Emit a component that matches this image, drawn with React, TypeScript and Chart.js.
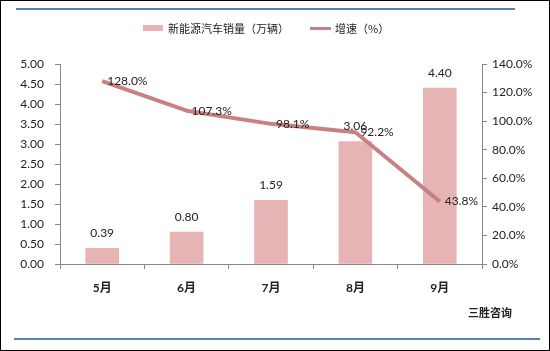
import React, { useEffect, useRef } from 'react';
import { Chart, registerables } from 'chart.js';
Chart.register(...registerables);

const categories = ['5月', '6月', '7月', '8月', '9月'];
const sales = [0.39, 0.8, 1.59, 3.06, 4.4];
const growth = [128.0, 107.3, 98.1, 92.2, 43.8];
const salesLabel = '新能源汽车销量（万辆）';
const growthLabel = '增速（%）';
const sourceText = '三胜咨询';

const BAR_COLOR = '#e6b4b5';
const LINE_COLOR = '#c88183';
const FONT = "Lato, 'Noto Sans CJK SC', sans-serif";
const CJK = "'Noto Sans CJK SC', sans-serif";

export default function App() {
  const ref = useRef<HTMLCanvasElement>(null);
  useEffect(() => {
    document.body.style.margin = '0';
    const canvas = ref.current!;
    const decor = {
      id: 'decor',
      beforeDraw(chart: any) {
        const c = chart.ctx;
        c.save();
        c.fillStyle = '#fff';
        c.fillRect(0, 0, chart.width, chart.height);
        c.restore();
      },
      afterDatasetsDraw(chart: any) {
        const c = chart.ctx;
        c.save();
        c.fillStyle = '#222';
        c.font = `12px ${FONT}`;
        const barMeta = chart.getDatasetMeta(0);
        barMeta.data.forEach((el: any, i: number) => {
          c.textAlign = 'center';
          c.textBaseline = 'middle';
          c.fillText(sales[i].toFixed(2), el.x, el.y - 15);
        });
        const lineMeta = chart.getDatasetMeta(1);
        lineMeta.data.forEach((el: any, i: number) => {
          c.textAlign = 'left';
          c.textBaseline = 'middle';
          c.fillText(growth[i].toFixed(1) + '%', el.x + 5, el.y);
        });
        c.restore();
      },
      afterDraw(chart: any) {
        const c = chart.ctx;
        c.save();
        // outer border
        c.strokeStyle = '#000';
        c.lineWidth = 1;
        c.strokeRect(0.5, 0.5, chart.width - 1, chart.height - 1);
        // blue lines
        c.strokeStyle = '#4f81bd';
        c.lineWidth = 2;
        c.beginPath();
        c.moveTo(16, 9);
        c.lineTo(515, 9);
        c.moveTo(14, 339);
        c.lineTo(540, 339);
        c.stroke();
        // legend
        c.fillStyle = BAR_COLOR;
        c.fillRect(143, 25, 20, 6);
        c.fillStyle = '#222';
        c.font = `11px ${CJK}`;
        c.textAlign = 'left';
        c.textBaseline = 'middle';
        c.fillText(salesLabel, 168, 29);
        c.strokeStyle = LINE_COLOR;
        c.lineWidth = 3;
        c.beginPath();
        c.moveTo(310, 28.5);
        c.lineTo(331, 28.5);
        c.stroke();
        c.fillText(growthLabel, 335, 29);
        // source
        c.font = `bold 11px ${CJK}`;
        c.fillText(sourceText, 468, 313);
        c.restore();
      },
    };
    const chart = new Chart(canvas, {
      type: 'bar',
      data: {
        labels: categories,
        datasets: [
          {
            type: 'bar',
            label: salesLabel,
            data: sales,
            backgroundColor: BAR_COLOR,
            barThickness: 33,
            yAxisID: 'y',
            order: 1,
          },
          {
            type: 'line',
            label: growthLabel,
            data: growth,
            borderColor: LINE_COLOR,
            borderWidth: 4,
            pointRadius: 0,
            tension: 0,
            borderJoinStyle: 'round',
            yAxisID: 'y1',
            order: 0,
          } as any,
        ],
      },
      options: {
        responsive: false,
        animation: false,
        layout: { padding: { top: 64, left: 0, right: 0, bottom: 0 } },
        plugins: { legend: { display: false }, tooltip: { enabled: false } },
        scales: {
          x: {
            grid: { display: true, drawOnChartArea: false, drawTicks: true, tickLength: 5, color: '#888', offset: true },
            border: { color: '#888', width: 1 },
            ticks: { color: '#222', font: { family: FONT, size: 12, weight: 'bold' }, padding: 12 },
            afterFit(s: any) { s.height = 87; },
          },
          y: {
            position: 'left',
            min: 0,
            max: 5,
            ticks: { stepSize: 0.5, color: '#222', font: { family: FONT, size: 12 }, padding: 11, callback: (v: any) => Number(v).toFixed(2) },
            grid: { display: true, drawOnChartArea: false, drawTicks: true, tickLength: 5, color: '#888' },
            border: { color: '#888', width: 1 },
            afterFit(s: any) { s.width = 60; },
          },
          y1: {
            position: 'right',
            min: 0,
            max: 140,
            ticks: { stepSize: 20, color: '#222', font: { family: FONT, size: 12 }, padding: 5, callback: (v: any) => Number(v).toFixed(1) + '%' },
            grid: { display: true, drawOnChartArea: false, drawTicks: true, tickLength: 5, color: '#888' },
            border: { color: '#888', width: 1 },
            afterFit(s: any) { s.width = 68; },
          },
        },
      } as any,
      plugins: [decor],
    });
    return () => chart.destroy();
  }, []);
  return (
    <div style={{ position: 'fixed', left: 0, top: 0, width: 550, height: 351 }}>
      <canvas ref={ref} width={550} height={351} style={{ display: 'block', width: 550, height: 351 }} />
    </div>
  );
}
